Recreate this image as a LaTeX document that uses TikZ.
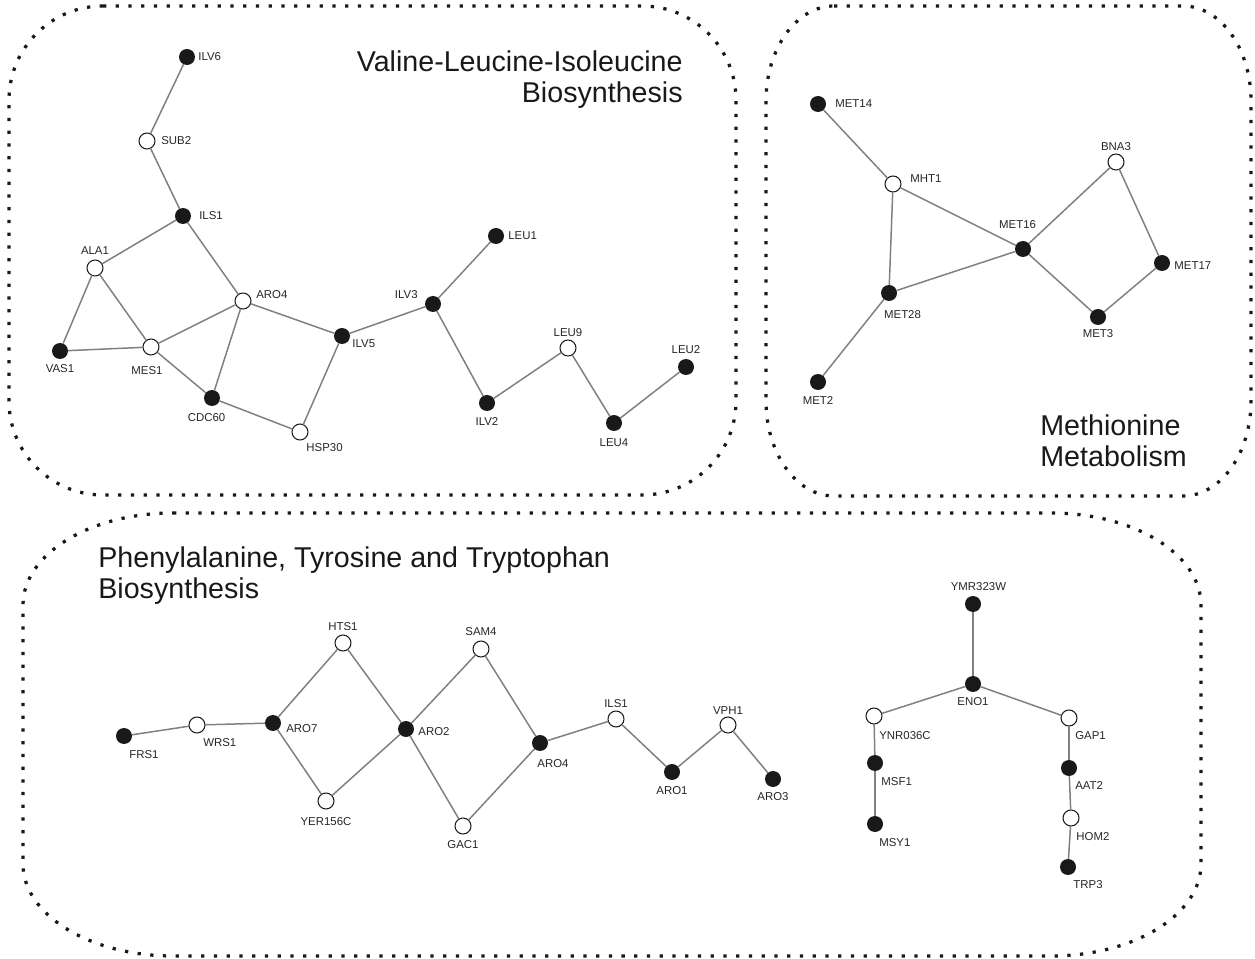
\documentclass[tikz,border=0pt]{standalone}
\usepackage{fontspec}
\setmainfont{Liberation Sans}
\usetikzlibrary{positioning,calc}

% dotted frame with elliptic corners: x1,y1,x2,y2,rx,ry
\newcommand{\groupbox}[6]{%
  \draw[groupline] (#1+#5,#2) -- (#3-#5,#2)
    arc[start angle=270, end angle=360, x radius=#5, y radius=#6]
    -- (#3,#4-#6) arc[start angle=0, end angle=90, x radius=#5, y radius=#6]
    -- (#1+#5,#4) arc[start angle=90, end angle=180, x radius=#5, y radius=#6]
    -- (#1,#2+#6) arc[start angle=180, end angle=270, x radius=#5, y radius=#6]
    -- cycle;}

\begin{document}
\begin{tikzpicture}[x=0.02cm, y=-0.02cm,
		groupline/.style = {line width=1.85pt, dash pattern=on 1.85pt off 5.4pt, black!90},
		gene/.style = {circle, minimum size=0.32cm, inner sep=0pt, outer sep=0pt},
		fgene/.style = {gene, fill=black!90},
		ogene/.style = {gene, draw=black!90, line width=0.6pt, fill=white},
		lbl/.style = {font=\fontsize{6.5}{7.5}\selectfont, text=black!85, inner sep=1pt},
		link/.style = {draw=black!50, line width=0.85pt},
		title/.style = {font=\fontsize{16.3}{18.1}\selectfont, text=black!90, inner sep=0pt}]
		\useasboundingbox (0,0) rectangle (1255,959);
		\groupbox{9}{6}{736}{495}{94}{94}
		\groupbox{766}{6}{1251}{496}{68}{95}
		\groupbox{23}{513}{1201}{956}{150}{92}
		\node[title, align=right, anchor=north east] (vlititle) at (683,50) {Valine-Leucine-Isoleucine\\Biosynthesis};
		\node[title, align=left, anchor=north west] (mettitle) at (1040,414) {Methionine\\Metabolism};
		\node[title, align=left, anchor=north west] (arotitle) at (98,546) {Phenylalanine, Tyrosine and Tryptophan\\Biosynthesis};
		% valine, leucine, isoleucine
		\node[fgene, label={[lbl,label distance=0.7pt]right:ILV6}] (ILV6) at (187,57) {};
		\node[ogene, label={[lbl,label distance=2.4pt]right:SUB2}] (SUB2) at (147,141) {};
		\node[fgene, label={[lbl,label distance=3.5pt]right:ILS1}] (ILS1) at (183,216) {};
		\node[ogene, label={[lbl,label distance=1.8pt]above:ALA1}] (ALA1) at (95,268) {};
		\node[ogene, label={[lbl,label distance=1.8pt,yshift=3.4pt]right:ARO4}] (ARO4) at (243,301) {};
		\node[fgene, label={[lbl,label distance=0.2pt,yshift=-4.3pt]right:ILV5}] (ILV5) at (342,336) {};
		\node[fgene, label={[lbl,label distance=1.8pt]below:VAS1}] (VAS1) at (60,351) {};
		\node[ogene, label={[lbl,label distance=5.2pt,xshift=-2.3pt]below:MES1}] (MES1) at (151,347) {};
		\node[fgene, label={[lbl,label distance=3pt,xshift=-3.1pt]below:CDC60}] (CDC60) at (212,398) {};
		\node[ogene, label={[lbl,label distance=2.9pt,xshift=-2.8pt]below right:HSP30}] (HSP30) at (300,432) {};
		\node[fgene, label={[lbl,label distance=1.3pt]right:LEU1}] (LEU1) at (496,236) {};
		\node[fgene, label={[lbl,label distance=3pt,yshift=5.1pt]left:ILV3}] (ILV3) at (433,304) {};
		\node[ogene, label={[lbl,label distance=0.9pt]above:LEU9}] (LEU9) at (568,348) {};
		\node[fgene, label={[lbl,label distance=1.8pt]above:LEU2}] (LEU2) at (686,367) {};
		\node[fgene, label={[lbl,label distance=2.4pt]below:ILV2}] (ILV2) at (487,403) {};
		\node[fgene, label={[lbl,label distance=3pt]below:LEU4}] (LEU4) at (614,423) {};
		% methionine
		\node[fgene, label={[lbl,label distance=4.1pt]right:MET14}] (MET14) at (818,104) {};
		\node[ogene, label={[lbl,label distance=4.1pt,yshift=3.1pt]right:MHT1}] (MHT1) at (893,184) {};
		\node[ogene, label={[lbl,label distance=0.7pt]above:BNA3}] (BNA3) at (1116,162) {};
		\node[fgene, label={[lbl,label distance=5.8pt,xshift=-3.1pt]above:MET16}] (MET16) at (1023,249) {};
		\node[fgene, label={[lbl,label distance=1.3pt,yshift=-1.7pt]right:MET17}] (MET17) at (1162,263) {};
		\node[fgene, label={[lbl,label distance=4.1pt,xshift=7.7pt]below:MET28}] (MET28) at (889,293) {};
		\node[fgene, label={[lbl,label distance=1.3pt]below:MET3}] (MET3) at (1098,317) {};
		\node[fgene, label={[lbl,label distance=2.4pt]below:MET2}] (MET2) at (818,382) {};
		% aromatic amino acids
		\node[fgene, label={[lbl,label distance=5.3pt,xshift=-5.1pt]below right:FRS1}] (FRS1) at (124,736) {};
		\node[ogene, label={[lbl,label distance=4.5pt,xshift=-4pt]below right:WRS1}] (WRS1) at (197,725) {};
		\node[fgene, label={[lbl,label distance=1.8pt,yshift=-3.1pt]right:ARO7}] (ARO7) at (273,723) {};
		\node[ogene, label={[lbl,label distance=1.3pt]above:HTS1}] (HTS1) at (343,643) {};
		\node[ogene, label={[lbl,label distance=3.5pt]below:YER156C}] (YER156C) at (326,801) {};
		\node[fgene, label={[lbl,label distance=1.3pt,yshift=-1.4pt]right:ARO2}] (ARO2) at (406,729) {};
		\node[ogene, label={[lbl,label distance=1.8pt]above:SAM4}] (SAM4) at (481,649) {};
		\node[ogene, label={[lbl,label distance=2.4pt]below:GAC1}] (GAC1) at (463,826) {};
		\node[fgene, label={[lbl,label distance=3.5pt,xshift=7.4pt]below:ARO4}] (ARO4b) at (540,743) {};
		\node[ogene, label={[lbl,label distance=0.7pt]above:ILS1}] (ILS1b) at (616,719) {};
		\node[fgene, label={[lbl,label distance=2.4pt]below:ARO1}] (ARO1) at (672,772) {};
		\node[ogene, label={[lbl,label distance=0pt]above:VPH1}] (VPH1) at (728,725) {};
		\node[fgene, label={[lbl,label distance=1.8pt]below:ARO3}] (ARO3) at (773,779) {};
		\node[fgene, label={[lbl,label distance=1.8pt,xshift=3.1pt]above:YMR323W}] (YMR323W) at (973,604) {};
		\node[fgene, label={[lbl,label distance=1.8pt]below:ENO1}] (ENO1) at (973,684) {};
		\node[ogene, label={[lbl,label distance=6.1pt,xshift=-5.7pt]below right:YNR036C}] (YNR036C) at (874,716) {};
		\node[ogene, label={[lbl,label distance=4.5pt,xshift=-4pt]below right:GAP1}] (GAP1) at (1069,718) {};
		\node[fgene, label={[lbl,label distance=5.3pt,xshift=-4.5pt]below right:MSF1}] (MSF1) at (875,763) {};
		\node[fgene, label={[lbl,label distance=5.3pt,xshift=-5.7pt]below right:MSY1}] (MSY1) at (875,824) {};
		\node[fgene, label={[lbl,label distance=4.5pt,xshift=-4pt]below right:AAT2}] (AAT2) at (1069,768) {};
		\node[ogene, label={[lbl,label distance=5.3pt,xshift=-5.1pt]below right:HOM2}] (HOM2) at (1071,818) {};
		\node[fgene, label={[lbl,label distance=4.5pt,xshift=-4.5pt]below right:TRP3}] (TRP3) at (1068,867) {};
		\foreach \a/\b in {ILV6/SUB2, SUB2/ILS1, ILS1/ALA1, ILS1/ARO4, ALA1/VAS1, ALA1/MES1,
				VAS1/MES1, MES1/ARO4, MES1/CDC60, ARO4/CDC60, ARO4/ILV5, CDC60/HSP30,
				HSP30/ILV5, ILV5/ILV3, ILV3/LEU1, ILV3/ILV2, ILV2/LEU9, LEU9/LEU4, LEU4/LEU2,
				MET14/MHT1, MHT1/MET28, MHT1/MET16, MET28/MET16, MET28/MET2, MET16/BNA3,
				BNA3/MET17, MET16/MET3, MET3/MET17,
				FRS1/WRS1, WRS1/ARO7, ARO7/HTS1, ARO7/YER156C, HTS1/ARO2, YER156C/ARO2,
				ARO2/SAM4, ARO2/GAC1, SAM4/ARO4b, GAC1/ARO4b, ARO4b/ILS1b, ILS1b/ARO1,
				ARO1/VPH1, VPH1/ARO3, YMR323W/ENO1, ENO1/YNR036C, ENO1/GAP1, YNR036C/MSF1,
				MSF1/MSY1, GAP1/AAT2, AAT2/HOM2, HOM2/TRP3}
			\draw[link] (\a) -- (\b);
\end{tikzpicture}
\end{document}
